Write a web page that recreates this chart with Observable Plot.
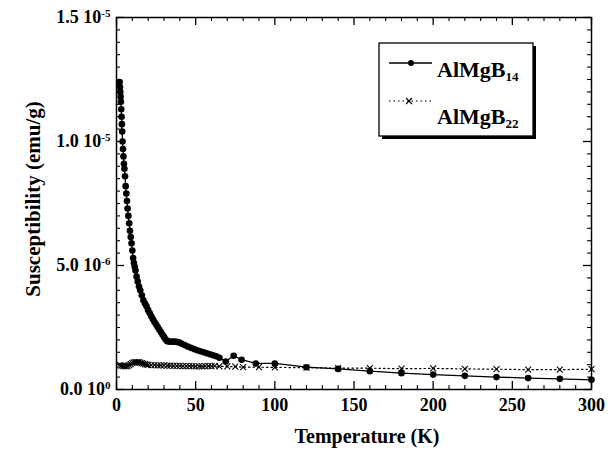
<!DOCTYPE html>
<html><head><meta charset="utf-8">
<script src="https://cdn.jsdelivr.net/npm/d3@7"></script>
<script src="https://cdn.jsdelivr.net/npm/@observablehq/plot@0.6"></script>
<style>
body{margin:0;background:#fff;}
#chart{position:relative;width:614px;height:454px;}
</style></head><body><div id="chart"></div>
<script>
// Temperature (K) and susceptibility (units of 1e-6 emu/g)
const tempB14 = [2.0,2.2,2.4,2.6,2.8,3.0,3.2,3.4,3.6,3.8,4.1,4.4,4.7,5.0,5.4,5.8,6.2,6.6,7.0,7.5,8.0,8.5,9.0,9.5,10.0,10.5,11.0,11.5,12.0,12.7,13.4,14.2,15.0,16.0,17.0,18.0,19.0,20.0,21.0,22.0,23.0,24.0,25.0,26.0,27.0,28.0,29.0,30.0,31.0,32.0,33.5,35.0,36.5,38.0,39.5,41,43,45,47,49,51,53,55,57,59,61,63,65,69,74,79,88,100,120,140,160,180,200,220,240,260,280,300];
const chiB14 = [12.4,12.2,12.0,11.8,11.6,11.3,11.0,10.7,10.4,10.0,9.7,9.4,9.1,8.9,8.6,8.2,7.9,7.6,7.3,7.0,6.7,6.4,6.15,5.9,5.6,5.3,5.1,4.95,4.8,4.55,4.35,4.15,4.0,3.8,3.6,3.47,3.35,3.2,3.07,2.95,2.83,2.72,2.62,2.52,2.42,2.32,2.22,2.12,2.02,1.95,1.93,1.93,1.93,1.92,1.9,1.85,1.79,1.73,1.68,1.63,1.58,1.54,1.50,1.46,1.42,1.38,1.34,1.28,1.13,1.36,1.2,1.05,1.05,0.9,0.83,0.74,0.66,0.6,0.55,0.5,0.46,0.43,0.39];
const tempB22 = [2,3,4,5,6,7,8,9,10,11,12,13,14,15,16,17,18,19,20,22,24,26,28,30,32,34,36,38,40,42,44,46,48,50,52,54,56,58,60,62,65,70,75,80,90,100,120,140,160,180,200,220,240,260,280,300];
const chiB22 = [0.98,0.96,0.95,0.94,0.93,0.95,0.98,1.02,1.06,1.09,1.1,1.1,1.1,1.08,1.06,1.04,1.02,1.0,0.99,0.98,0.98,0.97,0.97,0.97,0.96,0.96,0.95,0.95,0.95,0.94,0.94,0.94,0.94,0.93,0.93,0.93,0.94,0.94,0.94,0.95,0.93,0.93,0.92,0.9,0.9,0.89,0.88,0.86,0.86,0.84,0.85,0.83,0.82,0.8,0.8,0.82];

const xMajorTicks = [0,50,100,150,200,250,300];
const xMinorTicks = [10,20,30,40,60,70,80,90,110,120,130,140,160,170,180,190,210,220,230,240,260,270,280,290];
const yMajorTicks = [0,5,10,15];
const yMinorTicks = [0.5,1,1.5,2,2.5,3,3.5,4,4.5,5.5,6,6.5,7,7.5,8,8.5,9,9.5,10.5,11,11.5,12,12.5,13,13.5,14,14.5];
const yTickMantissa = ["0.0","5.0","1.0","1.5"];
const yTickExponent = ["0","-6","-5","-5"];
const xTitle = "Temperature (K)";
const yTitle = "Susceptibility (emu/g)";
const seriesBase = ["AlMgB","AlMgB"];
const seriesSub = ["14","22"];

const b14 = tempB14.map((t,i)=>({T:t, chi:chiB14[i]}));
const b22 = tempB22.map((t,i)=>({T:t, chi:chiB22[i]}));
const font = "Liberation Serif, Times New Roman, serif";

const W = 614, H = 454, mL = 116, mR = 23, mT = 17, mB = 65;
const fw = W - mL - mR, fh = H - mT - mB;
const majLen = 8, minLen = 4;
const tickColor = "#000";

const chart = Plot.plot({
  width:W, height:H,
  marginLeft:mL, marginRight:mR, marginTop:mT, marginBottom:mB,
  x:{domain:[0,300]}, y:{domain:[0,15]},
  style:{fontFamily:font, fontWeight:"bold", fontSize:"18px", color:"#000", background:"#fff", overflow:"visible"},
  marks:[
    Plot.axisX(xMajorTicks,{tickSize:0, tickPadding:9, fontSize:18, fontWeight:"bold", label:null}),
    Plot.axisY(yMajorTicks,{tickSize:0, tickPadding:6, fontSize:18, fontWeight:"bold", label:null,
      tickFormat:(d)=>{const i=yMajorTicks.indexOf(d); return yTickMantissa[i]+" 10|"+yTickExponent[i];}}),
    Plot.line(b22,{x:"T", y:"chi", stroke:"#000", strokeWidth:1.2, strokeDasharray:"1.5,3"}),
    Plot.dot(b22,{x:"T", y:"chi", symbol:"times", r:2.8, stroke:"#000", strokeWidth:1.1}),
    Plot.line(b14,{x:"T", y:"chi", stroke:"#000", strokeWidth:1.3}),
    Plot.dot(b14,{x:"T", y:"chi", r:3.3, fill:"#000", stroke:"none"}),
    Plot.frame({stroke:"#000", strokeWidth:1.5}),
    // inward ticks on all four sides
    Plot.tickX(xMajorTicks,{x:d=>d, insetTop:fh-majLen, stroke:tickColor, strokeWidth:1.3}),
    Plot.tickX(xMinorTicks,{x:d=>d, insetTop:fh-minLen, stroke:tickColor, strokeWidth:1.1}),
    Plot.tickX(xMajorTicks,{x:d=>d, insetBottom:fh-majLen, stroke:tickColor, strokeWidth:1.3}),
    Plot.tickX(xMinorTicks,{x:d=>d, insetBottom:fh-minLen, stroke:tickColor, strokeWidth:1.1}),
    Plot.tickY(yMajorTicks,{y:d=>d, insetRight:fw-majLen, stroke:tickColor, strokeWidth:1.3}),
    Plot.tickY(yMinorTicks,{y:d=>d, insetRight:fw-minLen, stroke:tickColor, strokeWidth:1.1}),
    Plot.tickY(yMajorTicks,{y:d=>d, insetLeft:fw-majLen, stroke:tickColor, strokeWidth:1.3}),
    Plot.tickY(yMinorTicks,{y:d=>d, insetLeft:fw-minLen, stroke:tickColor, strokeWidth:1.1})
  ]
});
document.getElementById("chart").appendChild(chart);

const svg = d3.select(chart);
// superscript exponents on y tick labels
svg.selectAll('g[aria-label="y-axis tick label"] text').each(function(){
  const t = d3.select(this);
  const s = t.text();
  if(!s.includes("|")) return;
  const [m, e] = s.split("|");
  t.text(null);
  t.append("tspan").text(m);
  t.append("tspan").attr("font-size", 11).attr("dy", "-0.55em").text(e);
});

// axis titles
svg.append("text").attr("x", 367).attr("y", 443).attr("text-anchor","middle")
  .attr("font-family", font).attr("font-weight","bold").attr("font-size", 20).attr("fill","#000").text(xTitle);
svg.append("text").attr("transform","translate(40,199) rotate(-90)").attr("text-anchor","middle")
  .attr("font-family", font).attr("font-weight","bold").attr("font-size", 21).attr("fill","#000").text(yTitle);

// legend
const lg = svg.append("g").attr("font-family", font).attr("font-weight","bold").attr("fill","#000");
lg.append("rect").attr("x",382).attr("y",46).attr("width",154).attr("height",93).attr("fill","#000");
lg.append("rect").attr("x",379).attr("y",43).attr("width",154).attr("height",93).attr("fill","#fff").attr("stroke","#000").attr("stroke-width",1.3);
lg.append("line").attr("x1",389).attr("x2",432).attr("y1",63).attr("y2",63).attr("stroke","#000").attr("stroke-width",1.3);
lg.append("circle").attr("cx",411).attr("cy",63).attr("r",3).attr("fill","#000");
lg.append("line").attr("x1",389).attr("x2",432).attr("y1",101).attr("y2",101).attr("stroke","#000").attr("stroke-width",1.2).attr("stroke-dasharray","1.5,3");
lg.append("path").attr("d","M406,98L412,104M412,98L406,104").attr("stroke","#000").attr("stroke-width",1.1);
[[77,0],[124,1]].forEach(([y,i])=>{
  const t = lg.append("text").attr("x",437).attr("y",y).attr("font-size",22).attr("text-anchor","start");
  t.append("tspan").text(seriesBase[i]);
  t.append("tspan").attr("font-size",13).attr("dy",4).text(seriesSub[i]);
});
</script></body></html>
